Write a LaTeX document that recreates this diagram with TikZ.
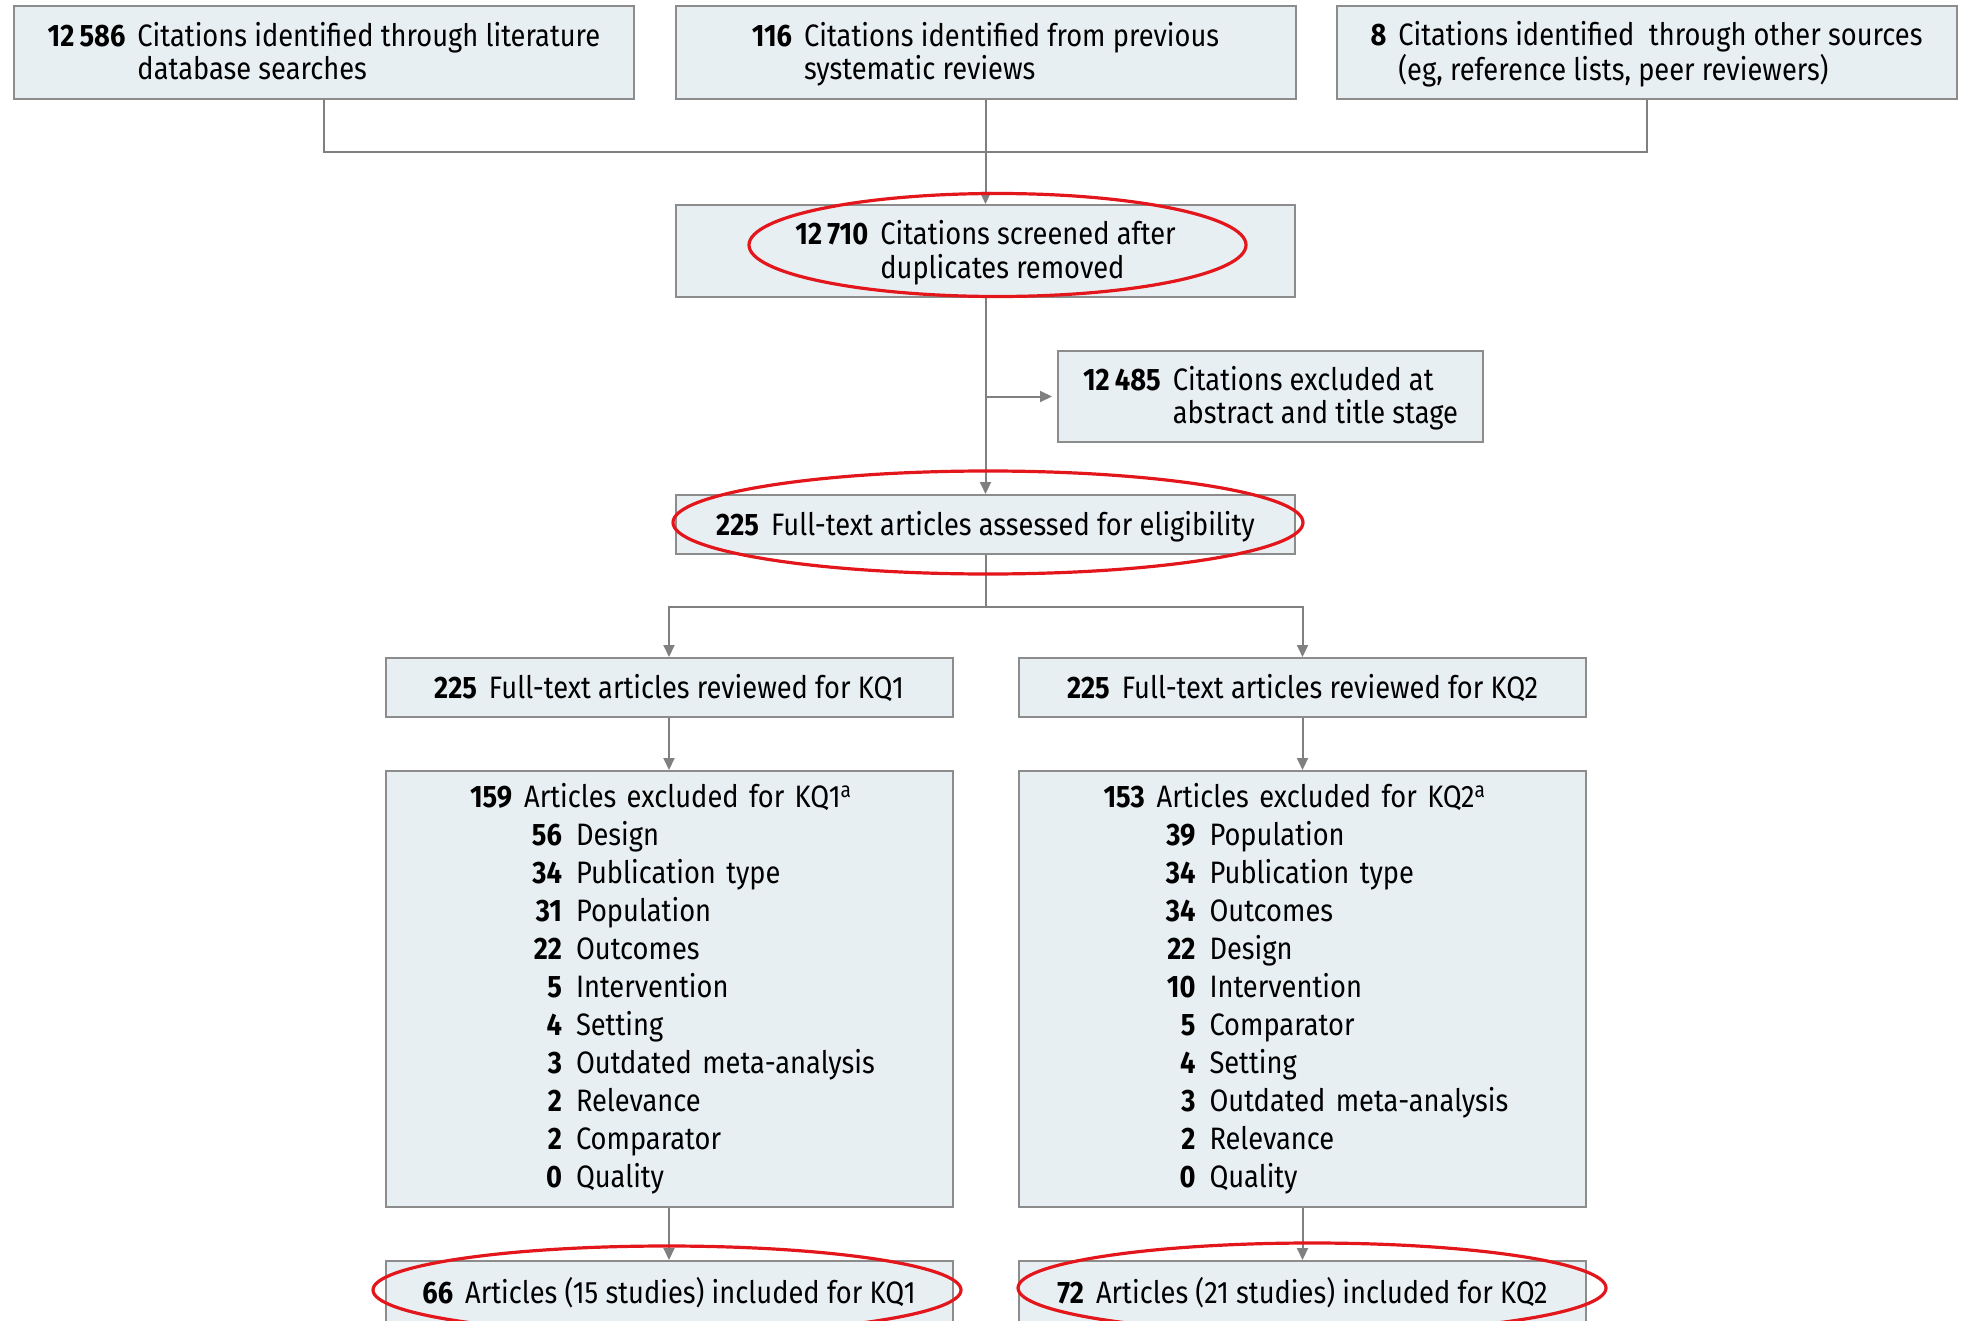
\documentclass[tikz,border=0pt]{standalone}
\usepackage{fontspec}
\setmainfont{Fira Sans}[FakeStretch=0.88]
\usepackage{xcolor}
\usepackage{tikz}
\usetikzlibrary{arrows.meta,positioning}

\definecolor{boxfill}{HTML}{E8EFF3}
\definecolor{boxline}{HTML}{8C8C8C}
\definecolor{linkgray}{HTML}{808080}
\definecolor{ringred}{HTML}{E3161C}

\newcommand{\cnt}[1]{\textbf{#1}\hspace{6pt}}
\newcommand{\twoline}[3]{\rule{0pt}{15.3pt}\cnt{#1}\begin{tabular}[t]{@{}l@{}}#2\\#3\end{tabular}}
\newcommand{\why}[2]{\makebox[46pt][r]{\textbf{#1}}\hspace{7pt}\makebox[0pt][l]{#2}}

\begin{document}
\begin{tikzpicture}[x=0.5pt, y=0.5pt,
    box/.style={draw=boxline, fill=boxfill, line width=1pt, inner sep=0pt,
      font=\fontsize{15.5}{15.7}\selectfont},
    oneline/.style={box, text height=13pt, text depth=2pt},
    listbox/.style={box, align=left, text width=199pt,
      font=\fontsize{15.5}{19}\selectfont},
    link/.style={draw=linkgray, line width=1pt},
    flow/.style={link, -{Triangle[length=6pt, width=5.5pt]}},
    ring/.style={draw=ringred, line width=1.6pt}]
  \useasboundingbox (0,0) rectangle (1970,-1321);
  \clip (0,0) rectangle (1970,-1321);

  % sources
  \node(lit) at (324,-52.5) [box, minimum width=310pt, minimum height=46.5pt]
    {\twoline{12\,586}{Citations identified through literature}{database searches}};
  \node(prev) at (985.5,-52.5) [box, minimum width=310pt, minimum height=46.5pt]
    {\twoline{116}{Citations identified from previous}{systematic reviews}};
  \node(other) at (1646.5,-52.5) [box, minimum width=310pt, minimum height=46.5pt]
    {\twoline{8}{Citations identified\ \ through other sources}{(eg, reference lists, peer reviewers)}};

  % screening
  \node(screened) at (985.5,-251) [box, minimum width=309.5pt, minimum height=46pt]
    {\twoline{12\,710}{Citations screened after}{duplicates removed}};
  \node(dropped) at (1270.5,-396.5) [box, minimum width=212.5pt, minimum height=45.5pt]
    {\twoline{12\,485}{Citations excluded at}{abstract and title stage}};
  \node(elig) at (985.5,-524.5) [oneline, minimum width=309.5pt, minimum height=29.5pt]
    {\cnt{225}Full-text articles assessed for eligibility};

  % key questions
  \node(kqone) at (669,-687.5) [oneline, minimum width=283.5pt, minimum height=29.5pt]
    {\cnt{225}Full-text articles reviewed for KQ1};
  \node(kqtwo) at (1302.5,-687.5) [oneline, minimum width=283.5pt, minimum height=29.5pt]
    {\cnt{225}Full-text articles reviewed for KQ2};

  \node(exone) at (669,-989) [listbox, minimum width=283.5pt, minimum height=218pt]
    {\cnt{159}Articles excluded for KQ1\textsuperscript{a}\\
     \why{56}{Design}\\
     \why{34}{Publication type}\\
     \why{31}{Population}\\
     \why{22}{Outcomes}\\
     \why{5}{Intervention}\\
     \why{4}{Setting}\\
     \why{3}{Outdated meta-analysis}\\
     \why{2}{Relevance}\\
     \why{2}{Comparator}\\
     \why{0}{Quality}};
  \node(extwo) at (1302.5,-989) [listbox, minimum width=283.5pt, minimum height=218pt]
    {\cnt{153}Articles excluded for KQ2\textsuperscript{a}\\
     \why{39}{Population}\\
     \why{34}{Publication type}\\
     \why{34}{Outcomes}\\
     \why{22}{Design}\\
     \why{10}{Intervention}\\
     \why{5}{Comparator}\\
     \why{4}{Setting}\\
     \why{3}{Outdated meta-analysis}\\
     \why{2}{Relevance}\\
     \why{0}{Quality}};

  \node(incone) at (669,-1292) [oneline, minimum width=283.5pt, minimum height=31pt]
    {\cnt{66}Articles (15 studies) included for KQ1};
  \node(inctwo) at (1302.5,-1292) [oneline, minimum width=283.5pt, minimum height=31pt]
    {\cnt{72}Articles (21 studies) included for KQ2};

  % connectors
  \coordinate(join) at (985.5,-152);
  \coordinate(side) at (985.5,-396.5);
  \coordinate(split) at (985.5,-607);
  \draw[link] (lit.south) |- (join) -| (other.south);
  \draw[flow] (prev.south) -- (screened.north);
  \draw[flow] (screened.south) -- (elig.north);
  \draw[flow, shorten >=2.5pt] (side) -- (dropped.west);
  \draw[link] (elig.south) -- (split);
  \draw[flow] (split) -| (kqone.north);
  \draw[flow] (split) -| (kqtwo.north);
  \draw[flow] (kqone) -- (exone);
  \draw[flow] (kqtwo) -- (extwo);
  \draw[flow] (exone) -- (incone);
  \draw[flow] (extwo) -- (inctwo);

  % highlights
  \draw[ring] (997.5,-245) ellipse [x radius=248.5, y radius=51.5];
  \draw[ring] (988,-522.5) ellipse [x radius=315, y radius=51.5];
  \draw[ring] (667,-1290) ellipse [x radius=294, y radius=44];
  \draw[ring] (1312,-1288) ellipse [x radius=294, y radius=45];
\end{tikzpicture}
\end{document}
